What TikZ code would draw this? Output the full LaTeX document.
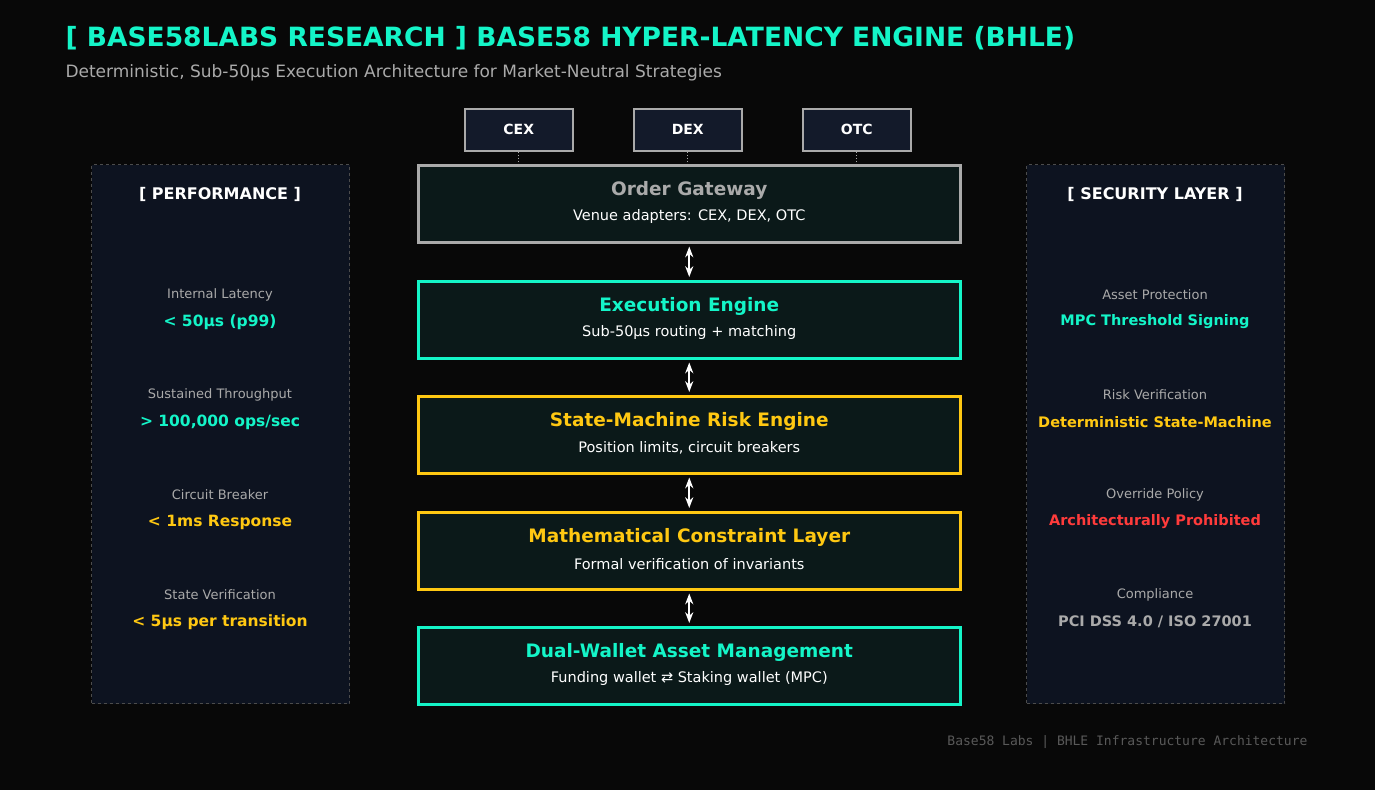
\documentclass[tikz,border=0pt]{standalone}
\usepackage{fontspec}
\setmainfont{DejaVu Sans}
\newfontfamily\monofont{DejaVu Sans Mono}
\usetikzlibrary{arrows.meta}
\definecolor{bgdark}{HTML}{080808}
\definecolor{teal}{HTML}{14F5C8}
\definecolor{gold}{HTML}{FFC812}
\definecolor{alertred}{HTML}{FF3B3B}
\definecolor{mutedgray}{HTML}{AAAAAA}
\definecolor{boxfill}{HTML}{0B1919}
\definecolor{panelfill}{HTML}{0D1320}
\definecolor{venuefill}{HTML}{131A2A}
\begin{document}
\begin{tikzpicture}
    [   x=1pt, y=-1pt
    ,   layer/.style=
        {   draw
        ,   fill=boxfill
        ,   line width=2.5pt
        ,   minimum width=542pt
        ,   minimum height=77pt
        ,   anchor=north west
        ,   inner sep=0pt
        }
    ,   venue/.style=
        {   draw=mutedgray
        ,   fill=venuefill
        ,   line width=1.5pt
        ,   minimum width=108pt
        ,   minimum height=42pt
        ,   anchor=north west
        ,   text=white
        ,   font=\fontsize{14}{16}\selectfont\bfseries
        }
    ,   panel/.style=
        {   draw=gray!60!black
        ,   fill=panelfill
        ,   dashed
        ,   line width=1pt
        ,   minimum width=258pt
        ,   minimum height=539pt
        ,   anchor=north west
        }
    ,   ltitle/.style={font=\fontsize{18.5}{20}\selectfont\bfseries}
    ,   lsub/.style={text=white, font=\fontsize{14.5}{16}\selectfont}
    ,   mlabel/.style={text=mutedgray, font=\fontsize{13}{15}\selectfont}
    ,   mvalue/.style={font=\fontsize{15.5}{17}\selectfont\bfseries}
    ,   >={Stealth[scale=0.9]}
    ]
    \fill[bgdark] (0,0) rectangle (1375,790);
    \node[anchor=west, text=teal, font=\fontsize{26.5}{28}\selectfont\bfseries]
        (title) at (62,38) {[ BASE58LABS RESEARCH ] BASE58 HYPER-LATENCY ENGINE (BHLE)};
    \node[anchor=west, text=mutedgray, font=\fontsize{17}{19}\selectfont]
        (subtitle) at (62,73) {Deterministic, Sub-50µs Execution Architecture for Market-Neutral Strategies};

    % side panels
    \node[panel] (perf) at (91,164) {};
    \node[panel] (sec) at (1026,164) {};
    \node[text=white, font=\fontsize{16}{18}\selectfont\bfseries] at (220,194) {[ PERFORMANCE ]};
    \node[text=white, font=\fontsize{16}{18}\selectfont\bfseries] at (1155,194) {[ SECURITY LAYER ]};
    \foreach \y/\lab/\val/\col in {%
        295/Internal Latency/{< 50µs (p99)}/teal,%
        395/Sustained Throughput/{> 100,000 ops/sec}/teal,%
        495/Circuit Breaker/{< 1ms Response}/gold,%
        595/State Verification/{< 5µs per transition}/gold}
    {
        \node[mlabel] at (220,\y) {\lab};
        \node[mvalue, text=\col] at (220,\y+27) {\val};
    }
    \foreach \y/\lab/\val/\col in {%
        295/Asset Protection/{MPC Threshold Signing}/teal,%
        395/Risk Verification/{Deterministic State-Machine}/gold,%
        495/Override Policy/{Architecturally Prohibited}/alertred,%
        595/Compliance/{PCI DSS 4.0 / ISO 27001}/mutedgray}
    {
        \node[mlabel] at (1155,\y) {\lab};
        \node[mvalue, text=\col, font=\fontsize{14.5}{16}\selectfont\bfseries] at (1155,\y+27) {\val};
    }

    % venues
    \node[venue] (cex) at (464,108) {CEX};
    \node[venue] (dex) at (633,108) {DEX};
    \node[venue] (otc) at (802,108) {OTC};

    % layers
    \node[layer, draw=mutedgray] (gateway) at (417,164) {};
    \node[layer, draw=teal] (engine) at (417,280) {};
    \node[layer, draw=gold] (risk) at (417,395) {};
    \node[layer, draw=gold] (constraint) at (417,511) {};
    \node[layer, draw=teal] (wallet) at (417,626) {};

    \foreach \n/\col/\head/\sub in {%
        gateway/mutedgray/{Order Gateway}/{Venue adapters: CEX, DEX, OTC},%
        engine/teal/{Execution Engine}/{Sub-50µs routing + matching},%
        risk/gold/{State-Machine Risk Engine}/{Position limits, circuit breakers},%
        constraint/gold/{Mathematical Constraint Layer}/{Formal verification of invariants},%
        wallet/teal/{Dual-Wallet Asset Management}/{Funding wallet ⇄ Staking wallet (MPC)}}
    {
        \node[ltitle, text=\col] at ([yshift=13pt]\n.center) {\head};
        \node[lsub] at ([yshift=-13pt]\n.center) {\sub};
    }

    \foreach \v in {cex,dex,otc}
        \draw[mutedgray, dotted, line width=1pt] (\v.south) -- (\v.south |- gateway.north);

    \foreach \a/\b in {gateway/engine,engine/risk,risk/constraint,constraint/wallet}
        \draw[<->, white, line width=2pt] ([yshift=-3pt]\a.south) -- ([yshift=3pt]\b.north);

    \node[anchor=east, text=gray!70!black, font=\monofont\fontsize{13}{15}\selectfont]
        (footer) at (1311,742) {Base58 Labs | BHLE Infrastructure Architecture};
\end{tikzpicture}
\end{document}
